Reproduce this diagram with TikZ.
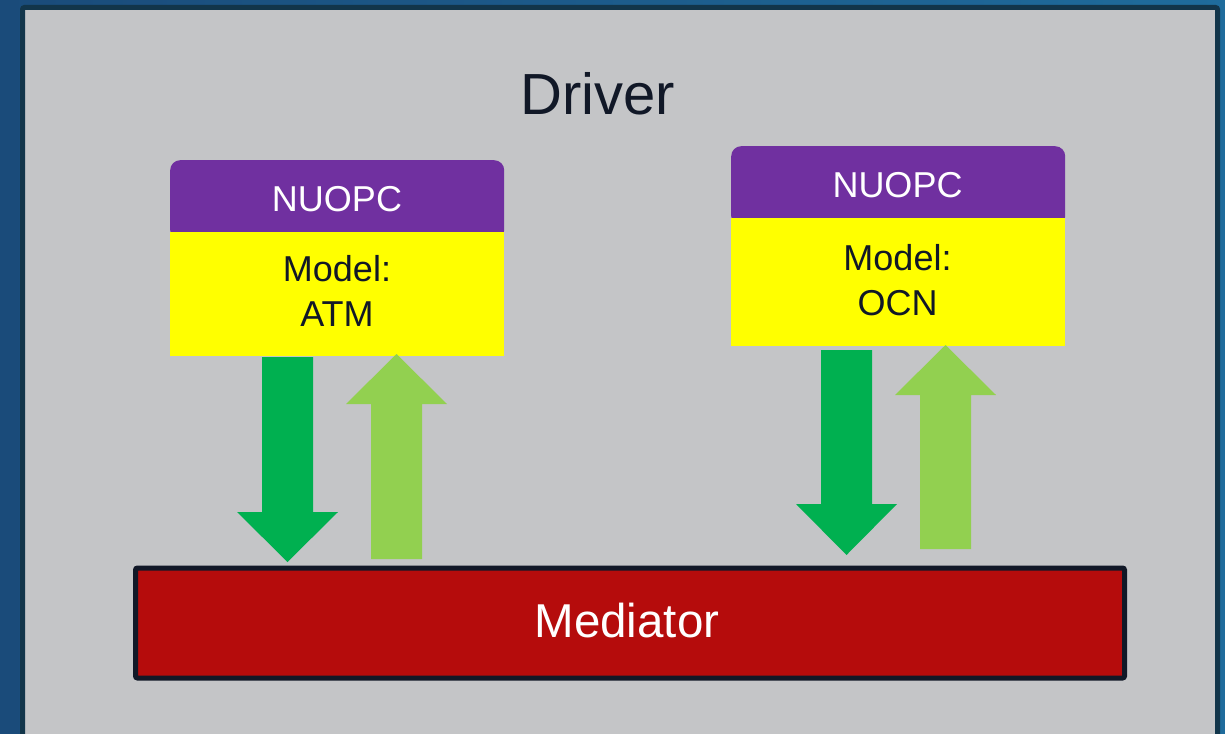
\documentclass[tikz,border=0pt]{standalone}
\usepackage{fontspec}
\setmainfont{Liberation Sans}
\definecolor{bgL}{HTML}{1A4B7A}
\definecolor{bgR}{HTML}{1F6C9C}
\definecolor{panel}{HTML}{C4C5C7}
\definecolor{panelEdge}{HTML}{12354A}
\definecolor{ink}{HTML}{111827}
\definecolor{nuopc}{HTML}{7030A0}
\definecolor{model}{HTML}{FFFF00}
\definecolor{gdown}{HTML}{00B050}
\definecolor{gup}{HTML}{92D050}
\definecolor{med}{HTML}{B50C0C}
\tikzset{
  hdr/.style={fill=nuopc, rounded corners=10pt, inner sep=0pt, minimum width=334pt, minimum height=80pt},
  mdl/.style={fill=model, inner sep=0pt, minimum width=334pt, minimum height=124pt},
  lbl/.style={inner sep=0pt, anchor=base, font=\fontsize{36}{45}\selectfont},
  arrdown/.style={fill=gdown},
  arrup/.style={fill=gup},
}
\begin{document}
\begin{tikzpicture}[x=1pt,y=-1pt]
\useasboundingbox (0,0) rectangle (1225,733);
\shade[left color=bgL, right color=bgR] (0,0) rectangle (1225,733);
\draw[panelEdge, line width=5pt, fill=panel, rounded corners=2pt] (22.5,7.5) rectangle (1217.5,760);
\node[lbl, text=ink, font=\fontsize{58}{60}\selectfont] (driver) at (598,115) {Driver};
% ATM
\node[hdr, anchor=north west] (atmh) at (170,160) {};
\node[mdl, anchor=north west] (atm) at (170,232) {};
\node[lbl, text=white] (atmt) at (337,211) {NUOPC};
\node[lbl, text=ink] (atml1) at (337,281) {Model:};
\node[lbl, text=ink] (atml2) at (337,326) {ATM};
% OCN
\node[hdr, anchor=north west] (ocnh) at (731,146) {};
\node[mdl, anchor=north west, minimum height=128pt] (ocn) at (731,218) {};
\node[lbl, text=white] (ocnt) at (897.5,197) {NUOPC};
\node[lbl, text=ink] (ocnl1) at (897.5,270) {Model:};
\node[lbl, text=ink] (ocnl2) at (897.5,315) {OCN};
% Mediator
\node[draw=ink, line width=5pt, fill=med, rounded corners=2pt, inner sep=0pt,
      minimum width=989pt, minimum height=110pt, anchor=north west] (med) at (133,565.5) {};
\node[lbl, text=white, font=\fontsize{47.5}{50}\selectfont] (medt) at (627,637) {Mediator};
% arrows
\fill[arrdown] (262,357) -- (313,357) -- (313,512) -- (338,512) -- (287.5,562) -- (237,512) -- (262,512) -- cycle;
\fill[arrup] (371,559) -- (422,559) -- (422,404) -- (447,404) -- (396.5,354) -- (346,404) -- (371,404) -- cycle;
\fill[arrdown] (821,350) -- (872,350) -- (872,504) -- (897,504) -- (846.5,555) -- (796,504) -- (821,504) -- cycle;
\fill[arrup] (920,549) -- (971,549) -- (971,395) -- (996,395) -- (945.5,345) -- (895,395) -- (920,395) -- cycle;
\end{tikzpicture}
\end{document}
